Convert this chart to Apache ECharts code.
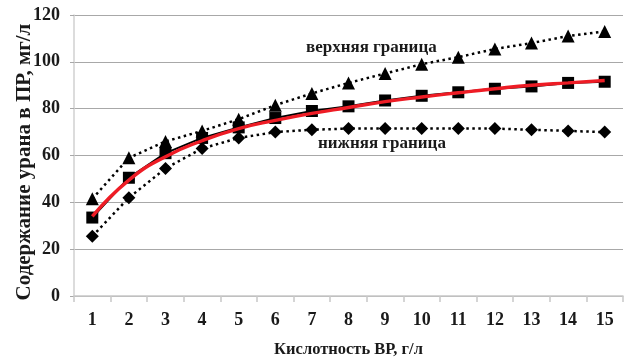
<!DOCTYPE html>
<html><head><meta charset="utf-8">
<script src="https://cdn.jsdelivr.net/npm/echarts@6/dist/echarts.min.js"></script>
<style>html,body{margin:0;padding:0;background:#fff}#c{width:625px;height:358px}</style>
</head><body><div id="c"></div>
<script>
var categories = ['1','2','3','4','5','6','7','8','9','10','11','12','13','14','15'];
var upper = [41.5, 59, 66, 70.5, 75.5, 81.5, 86.5, 91, 95, 99, 102, 105.5, 108, 111, 113];
var measured = [33.5, 50.5, 61, 67.5, 72, 76, 79, 81, 83.5, 85.5, 87, 88.5, 89.5, 91, 91.5];
var lower = [25.5, 42, 54.5, 63, 67.5, 70, 71, 71.5, 71.5, 71.5, 71.5, 71.5, 71, 70.5, 70];
var trend = [34, 49.5, 59.5, 66.3, 71.5, 75, 78, 80.5, 83, 85, 86.8, 88.5, 90, 91, 92];
var yTicks = [0, 20, 40, 60, 80, 100, 120];
var yTitle = 'Содержание урана в ПР, мг/л';
var xTitle = 'Кислотность ВР, г/л';
var labelUpper = 'верхняя граница';
var labelLower = 'нижняя граница';

var FONT = '"Liberation Serif", "Times New Roman", serif';
var chart = echarts.init(document.getElementById('c'), null, {renderer: 'canvas'});
chart.setOption({
  animation: false,
  backgroundColor: '#fff',
  grid: {left: 74, top: 15, right: 2, bottom: 62, containLabel: false, outerBoundsMode: 'none'},
  xAxis: {
    type: 'category', data: categories, boundaryGap: true,
    name: xTitle, nameLocation: 'middle', nameGap: 45,
    nameTextStyle: {fontFamily: FONT, fontWeight: 'bold', fontSize: 16.5, color: '#1a1a1a'},
    axisLine: {lineStyle: {color: '#c8c8c8', width: 1.5}},
    axisTick: {show: true, length: 6, lineStyle: {color: '#c8c8c8', width: 1.5}},
    axisLabel: {fontFamily: FONT, fontWeight: 'bold', fontSize: 18, color: '#1a1a1a', margin: 15}
  },
  yAxis: {
    type: 'value', min: yTicks[0], max: yTicks[yTicks.length - 1], interval: 20,
    axisLine: {show: true, lineStyle: {color: '#d0d0d0', width: 1.5}},
    axisTick: {show: true, length: 4, lineStyle: {color: '#a8a8a8'}},
    axisLabel: {fontFamily: FONT, fontWeight: 'bold', fontSize: 18, color: '#1a1a1a', margin: 14},
    splitLine: {lineStyle: {color: '#a8a8a8', width: 1.2}}
  },
  series: [
    {type: 'line', data: upper, symbol: 'triangle', symbolSize: 13,
     itemStyle: {color: '#000'}, lineStyle: {color: '#000', width: 2.5, type: [2.5, 3.5]}},
    {type: 'line', data: lower, symbol: 'diamond', symbolSize: 13,
     itemStyle: {color: '#000'}, lineStyle: {color: '#000', width: 2.5, type: [2.5, 3.5]}},
    {type: 'line', data: measured, symbol: 'rect', symbolSize: 12,
     itemStyle: {color: '#000'}, lineStyle: {color: '#000', width: 2}},
    {type: 'line', data: trend, smooth: true, symbol: 'none', z: 5,
     lineStyle: {color: '#ee1c25', width: 3.4}}
  ],
  graphic: [
    {type: 'text', x: 25, y: 162, rotation: Math.PI / 2,
     style: {text: yTitle, font: 'bold 21px ' + FONT, fill: '#1a1a1a', align: 'center', verticalAlign: 'middle'}},
    {type: 'text', left: 306, top: 39, style: {text: labelUpper, font: 'bold 17px ' + FONT, fill: '#1a1a1a'}},
    {type: 'text', left: 318, top: 135, style: {text: labelLower, font: 'bold 17px ' + FONT, fill: '#1a1a1a'}}
  ]
});
</script></body></html>
